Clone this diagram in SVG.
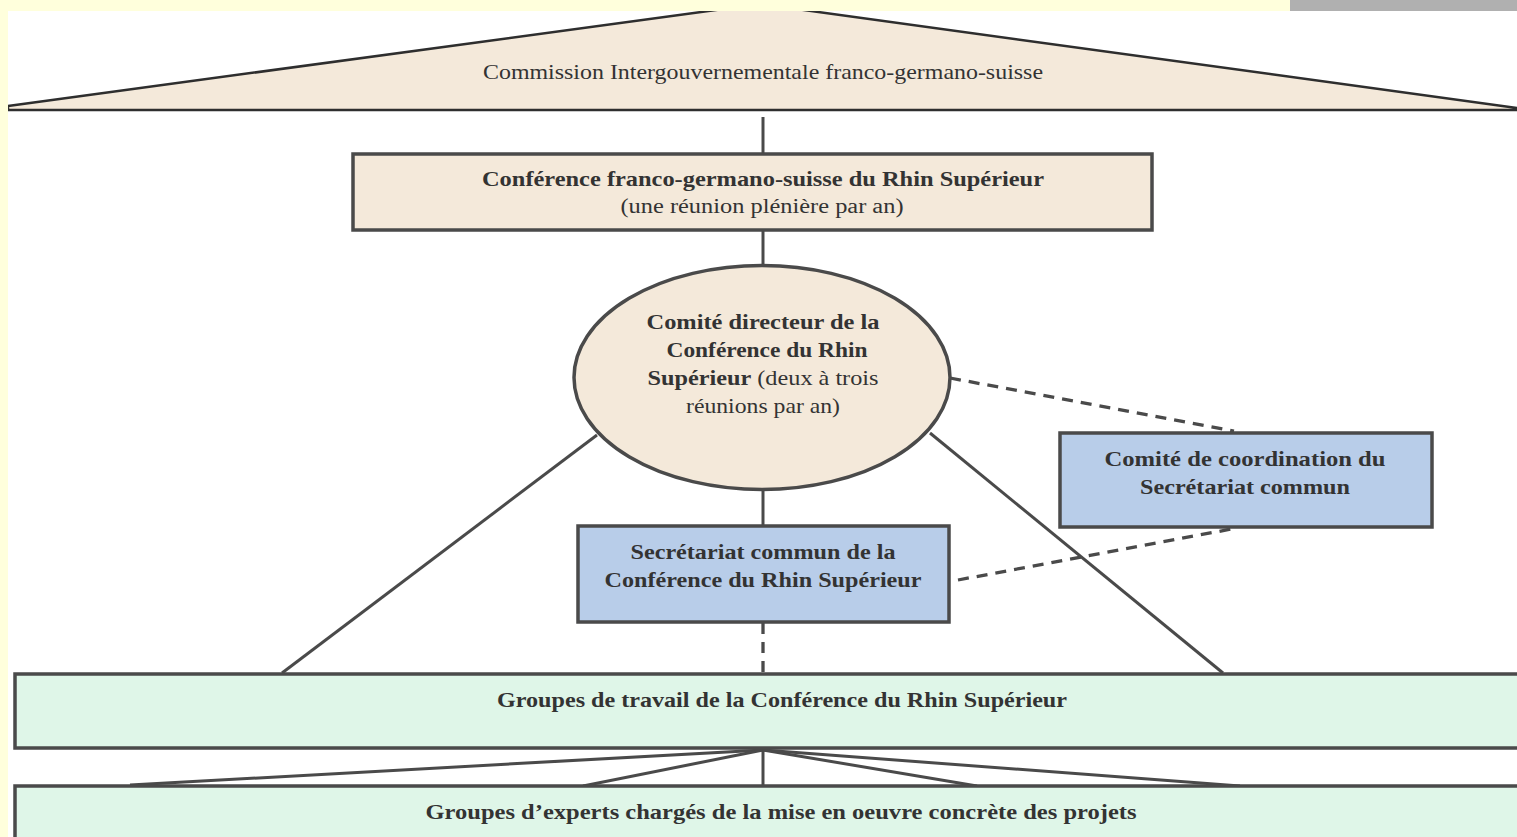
<svg xmlns="http://www.w3.org/2000/svg" width="1517" height="837" viewBox="0 0 1517 837">
<style>
.t{font-family:"Liberation Serif","Times New Roman",serif;fill:#333333;text-anchor:middle}
.b{font-weight:bold}
.n{font-size:21px}
.box{stroke:#4a4a4a;stroke-width:3.5}
.beige{fill:#f4e9da}
.blue{fill:#b8cde9}
.green{fill:#dff6e8}
.ln{stroke:#4a4a4a;stroke-width:3;fill:none}
.dash{stroke-dasharray:11 8;stroke-width:3.3}
</style>
<rect x="0" y="0" width="1517" height="837" fill="#ffffff"/>
<g id="commission">
<polygon points="8,106 760,4 1517,108 1517,110 8,110" class="beige" stroke="#2e2e2e" stroke-width="2.5"/>
<text class="t n" x="763" y="79" textLength="560" lengthAdjust="spacingAndGlyphs">Commission Intergouvernementale franco-germano-suisse</text>
</g>
<g id="connectors">
<line class="ln" x1="763" y1="117" x2="763" y2="153"/>
<line class="ln" x1="763" y1="231" x2="763" y2="265"/>
<line class="ln" x1="763" y1="490" x2="763" y2="525"/>
<line class="ln dash" x1="763" y1="623" x2="763" y2="673"/>
<line class="ln" x1="597" y1="435" x2="282" y2="673"/>
<line class="ln" x1="930" y1="433" x2="1223" y2="673"/>
<line class="ln dash" x1="950" y1="378" x2="1234" y2="431"/>
<line class="ln dash" x1="958" y1="580" x2="1237" y2="528"/>
<line class="ln" x1="763" y1="750" x2="130" y2="785"/>
<line class="ln" x1="763" y1="750" x2="583" y2="786"/>
<line class="ln" x1="763" y1="750" x2="763" y2="786"/>
<line class="ln" x1="763" y1="750" x2="977" y2="786"/>
<line class="ln" x1="763" y1="750" x2="1240" y2="786"/>
</g>
<g id="conference">
<rect class="box beige" x="353" y="154" width="799" height="76"/>
<text class="t b" x="763" y="186" font-size="21" textLength="562" lengthAdjust="spacingAndGlyphs">Conférence franco-germano-suisse du Rhin Supérieur</text>
<text class="t" x="762" y="213" font-size="20" textLength="283" lengthAdjust="spacingAndGlyphs">(une réunion plénière par an)</text>
</g>
<g id="comite-directeur">
<ellipse class="box beige" cx="762" cy="377.5" rx="188" ry="112"/>
<text class="t b" x="763" y="329" font-size="22" textLength="233" lengthAdjust="spacingAndGlyphs">Comité directeur de la</text>
<text class="t b" x="767" y="357" font-size="22" textLength="201" lengthAdjust="spacingAndGlyphs">Conférence du Rhin</text>
<text class="t" x="763" y="385" font-size="22" textLength="231" lengthAdjust="spacingAndGlyphs"><tspan class="b">Supérieur</tspan>  (deux à trois</text>
<text class="t" x="763" y="413" font-size="22" textLength="154" lengthAdjust="spacingAndGlyphs">réunions par an)</text>
</g>
<g id="secretariat">
<rect class="box blue" x="578" y="526" width="371" height="96"/>
<text class="t b" x="763" y="559" font-size="22" textLength="265" lengthAdjust="spacingAndGlyphs">Secrétariat commun de la</text>
<text class="t b" x="763" y="587" font-size="22" textLength="317" lengthAdjust="spacingAndGlyphs">Conférence du Rhin Supérieur</text>
</g>
<g id="coordination">
<rect class="box blue" x="1060" y="433" width="372" height="94"/>
<text class="t b" x="1245" y="466" font-size="22" textLength="281" lengthAdjust="spacingAndGlyphs">Comité de coordination du</text>
<text class="t b" x="1245" y="494" font-size="22" textLength="210" lengthAdjust="spacingAndGlyphs">Secrétariat commun</text>
</g>
<g id="groupes-travail">
<rect class="box green" x="15" y="674" width="1520" height="74"/>
<text class="t b" x="782" y="707" font-size="22" textLength="570" lengthAdjust="spacingAndGlyphs">Groupes de travail de la Conférence du Rhin Supérieur</text>
</g>
<g id="groupes-experts">
<rect class="box green" x="15" y="786" width="1520" height="70"/>
<text class="t b" x="781" y="819" font-size="22" textLength="711" lengthAdjust="spacingAndGlyphs">Groupes d’experts chargés de la mise en oeuvre concrète des projets</text>
</g>
<g id="frame">
<rect x="0" y="0" width="1517" height="11" fill="#ffffdc"/>
<rect x="0" y="0" width="8" height="837" fill="#ffffdc"/>
<rect x="1290" y="0" width="227" height="11" fill="#b0b0b0"/>
</g>
</svg>
